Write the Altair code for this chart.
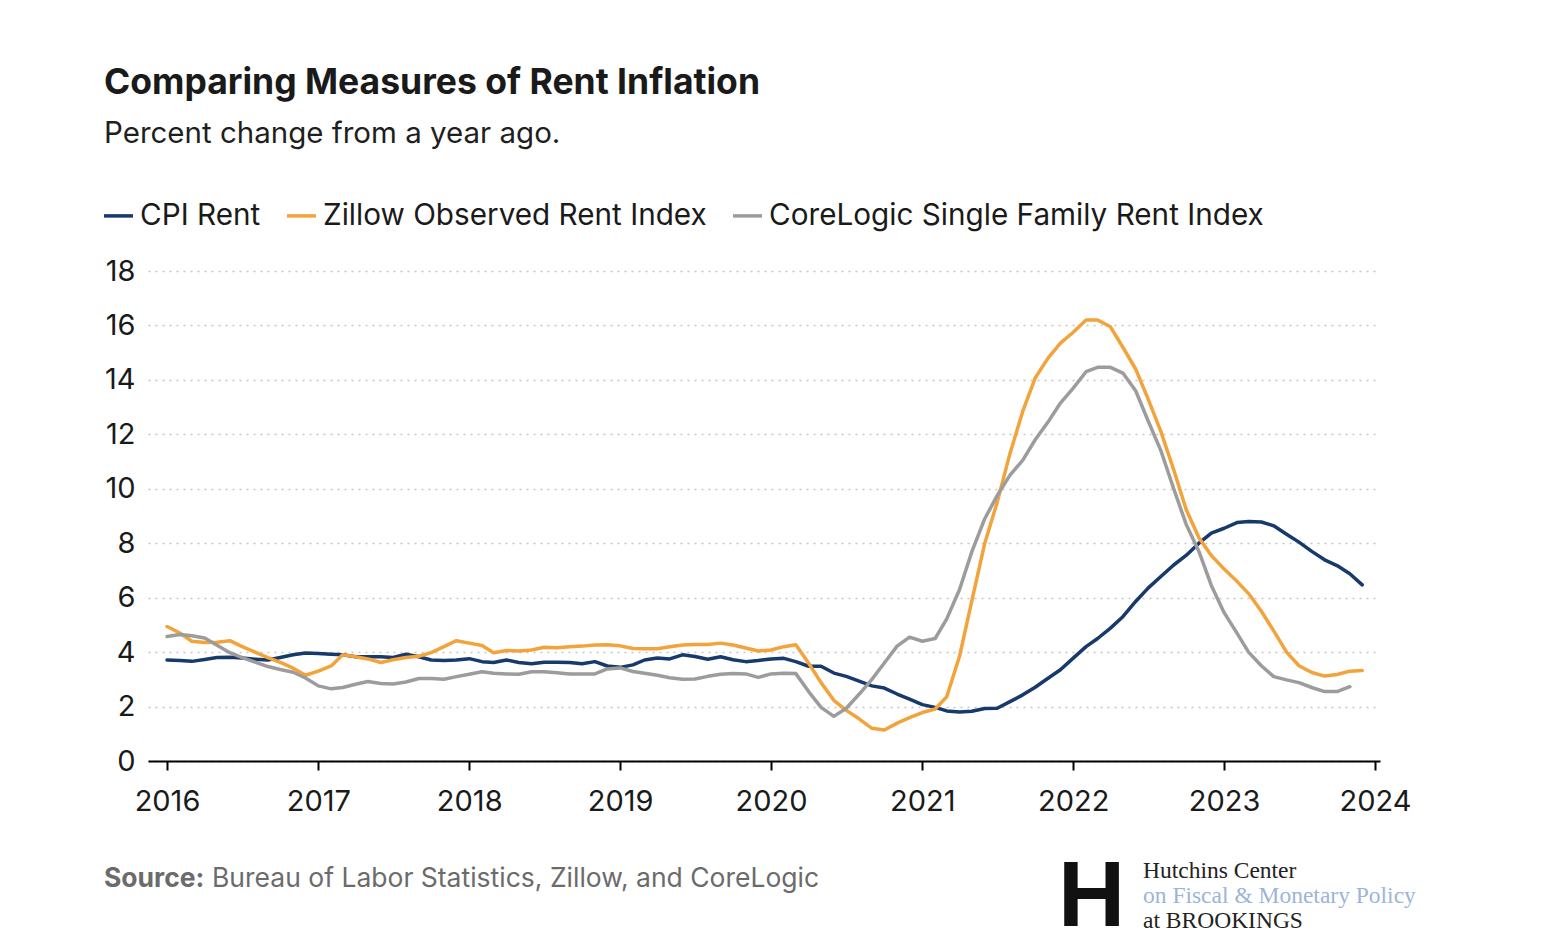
import altair as alt
import pandas as pd

# Monthly observations, Jan 2016 - Dec 2023 (percent change from a year ago)
months = pd.date_range("2016-01-01", periods=96, freq="MS").strftime("%Y-%m-%dT00:00:00").tolist()

cpi_rent = [
    3.71, 3.69, 3.66, 3.73, 3.80, 3.81, 3.78, 3.74, 3.71, 3.80, 3.90, 3.97,
    3.95, 3.92, 3.90, 3.83, 3.83, 3.83, 3.80, 3.92, 3.83, 3.71, 3.69, 3.71,
    3.76, 3.65, 3.62, 3.71, 3.62, 3.57, 3.63, 3.63, 3.62, 3.57, 3.65, 3.49,
    3.44, 3.53, 3.71, 3.78, 3.75, 3.90, 3.84, 3.74, 3.83, 3.72, 3.65, 3.69,
    3.75, 3.77, 3.65, 3.48, 3.48, 3.23, 3.11, 2.93, 2.76, 2.68, 2.46, 2.27,
    2.07, 1.97, 1.84, 1.80, 1.83, 1.93, 1.94, 2.18, 2.43, 2.71, 3.04, 3.35,
    3.78, 4.20, 4.50, 4.88, 5.30, 5.86, 6.35, 6.78, 7.20, 7.55, 8.00, 8.37,
    8.55, 8.76, 8.80, 8.78, 8.64, 8.33, 8.04, 7.70, 7.39, 7.18, 6.88, 6.47,
]

zillow = [
    4.94, 4.70, 4.40, 4.35, 4.36, 4.42, 4.20, 4.00, 3.80, 3.62, 3.41, 3.15,
    3.30, 3.49, 3.90, 3.83, 3.75, 3.62, 3.72, 3.80, 3.85, 3.98, 4.20, 4.42,
    4.33, 4.24, 3.98, 4.06, 4.04, 4.08, 4.18, 4.16, 4.20, 4.22, 4.26, 4.27,
    4.23, 4.13, 4.12, 4.12, 4.20, 4.26, 4.28, 4.28, 4.33, 4.26, 4.15, 4.04,
    4.08, 4.20, 4.27, 3.59, 2.88, 2.23, 1.86, 1.55, 1.20, 1.14, 1.39, 1.59,
    1.78, 1.91, 2.36, 3.85, 5.90, 8.00, 9.50, 11.30, 12.85, 14.07, 14.80, 15.35,
    15.75, 16.20, 16.20, 15.95, 15.20, 14.40, 13.30, 12.10, 10.70, 9.25, 8.20, 7.55,
    7.05, 6.60, 6.15, 5.50, 4.78, 4.00, 3.50, 3.25, 3.12, 3.18, 3.30, 3.32,
]

corelogic = [
    4.57, 4.65, 4.60, 4.52, 4.25, 3.98, 3.80, 3.63, 3.47, 3.36, 3.26, 3.05,
    2.76, 2.65, 2.70, 2.82, 2.92, 2.85, 2.83, 2.90, 3.03, 3.03, 3.00, 3.10,
    3.19, 3.28, 3.22, 3.20, 3.19, 3.28, 3.28, 3.24, 3.20, 3.20, 3.20, 3.38,
    3.42, 3.29, 3.22, 3.15, 3.06, 3.00, 3.01, 3.11, 3.19, 3.21, 3.20, 3.07,
    3.20, 3.22, 3.21, 2.55, 1.97, 1.64, 1.94, 2.45, 3.00, 3.60, 4.22, 4.55,
    4.40, 4.50, 5.22, 6.30, 7.70, 8.90, 9.75, 10.50, 11.05, 11.80, 12.45, 13.15,
    13.70, 14.30, 14.46, 14.46, 14.25, 13.60, 12.50, 11.40, 10.00, 8.70, 7.70, 6.45,
    5.45, 4.70, 4.00, 3.50, 3.10, 2.98, 2.88, 2.70, 2.55, 2.55, 2.73,
]

series_names = ["CPI Rent", "Zillow Observed Rent Index", "CoreLogic Single Family Rent Index"]
series_colors = ["#17396b", "#f2a33b", "#9c9c9c"]
year_ticks = list(range(2016, 2025))
y_ticks = list(range(0, 19, 2))

title_text = "Comparing Measures of Rent Inflation"
subtitle_text = "Percent change from a year ago."
source_label = "Source:"
source_text = "Bureau of Labor Statistics, Zillow, and CoreLogic"
logo_lines = ["Hutchins Center", "on Fiscal & Monetary Policy", "at BROOKINGS"]
logo_colors = ["#222222", "#9db4d8", "#222222"]

rows = []
for name, vals in zip(series_names, [cpi_rent, zillow, corelogic]):
    for d, v in zip(months, vals):
        rows.append({"date": d, "value": v, "series": name})
df = pd.DataFrame(rows)

FONT = "Inter"

lines = alt.Chart(df).mark_line(strokeWidth=3.5, strokeJoin="round", strokeCap="round").encode(
    x=alt.X(
        "date:T",
        title=None,
        scale=alt.Scale(domain=[alt.DateTime(year=2015, month=11, date=16),
                                alt.DateTime(year=2024, month=1, date=13)]),
        axis=alt.Axis(
            values=[alt.DateTime(year=y, month=1, date=1) for y in year_ticks],
            format="%Y",
            grid=False,
            domainColor="#000000",
            domainWidth=2,
            tickColor="#000000",
            tickWidth=2,
            tickSize=9,
            labelFontSize=29,
            labelColor="#1a1a1a",
            labelPadding=17,
            labelFont=FONT,
        ),
    ),
    y=alt.Y(
        "value:Q",
        title=None,
        scale=alt.Scale(domain=[0, 18]),
        axis=alt.Axis(
            values=y_ticks,
            domain=False,
            ticks=False,
            grid=True,
            gridDash=[2, 5],
            gridColor="#c6c6c6",
            gridWidth=1.6,
            labelFontSize=29,
            labelColor="#1a1a1a",
            labelPadding=13,
            labelFont=FONT,
        ),
    ),
    color=alt.Color(
        "series:N",
        sort=series_names,
        scale=alt.Scale(domain=series_names, range=series_colors),
        legend=alt.Legend(
            title=None,
            orient="none",
            legendX=-46,
            legendY=-72,
            direction="horizontal",
            symbolType="stroke",
            symbolSize=841,
            symbolStrokeWidth=3.5,
            labelFontSize=29.7,
            labelFont=FONT,
            labelColor="#1a1a1a",
            labelOffset=5,
            labelLimit=0,
            columnPadding=19,
        ),
    ),
)

src_bold = alt.Chart(pd.DataFrame({"t": [source_label]})).mark_text(
    align="left", baseline="alphabetic", font=FONT, fontSize=26.5, fontWeight=700, color="#6b6b6b"
).encode(x=alt.value(-44), y=alt.value(616), text="t:N")

src_rest = alt.Chart(pd.DataFrame({"t": [source_text]})).mark_text(
    align="left", baseline="alphabetic", font=FONT, fontSize=26.5, color="#6b6b6b"
).encode(x=alt.value(64), y=alt.value(616), text="t:N")

logo_h = alt.Chart(pd.DataFrame({"t": ["H"]})).mark_text(
    align="left", baseline="alphabetic", font="Liberation Sans", fontSize=93, fontWeight=700, color="#111111"
).encode(x=alt.value(910), y=alt.value(655), text="t:N")

logo_marks = []
for i, (txt, col) in enumerate(zip(logo_lines, logo_colors)):
    logo_marks.append(
        alt.Chart(pd.DataFrame({"t": [txt]})).mark_text(
            align="left", baseline="alphabetic", font="Liberation Serif", fontSize=23.5, color=col
        ).encode(x=alt.value(995), y=alt.value(607 + 25 * i), text="t:N")
    )

chart = alt.layer(lines, src_bold, src_rest, logo_h, *logo_marks).properties(
    width=1232,
    height=490,
    autosize=alt.AutoSizeParams(type="none"),
    padding={"left": 140, "top": 263, "right": 150, "bottom": 180},
    title=alt.TitleParams(
        text=title_text,
        subtitle=subtitle_text,
        anchor="start",
        frame="group",
        dx=-44,
        offset=51,
        font=FONT,
        fontSize=35.5,
        fontWeight=700,
        color="#1a1a1a",
        subtitleFont=FONT,
        subtitleFontSize=29.5,
        subtitleColor="#1f1f1f",
        subtitlePadding=18,
    ),
).configure(background="#ffffff").configure_view(stroke="transparent", strokeWidth=0)

chart.save("out.html", embed_options={"renderer": "svg", "actions": False})
